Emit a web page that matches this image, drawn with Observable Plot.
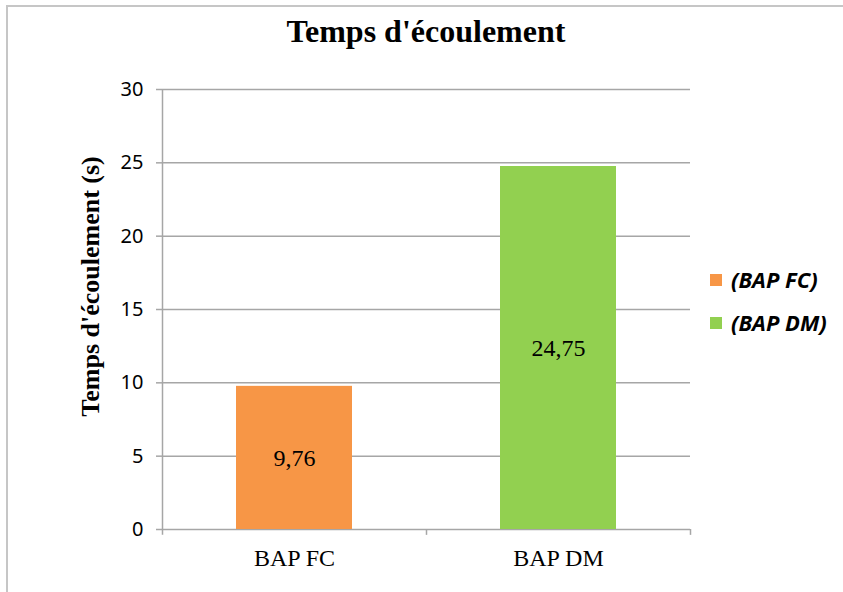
<!DOCTYPE html>
<html>
<head>
<meta charset="utf-8">
<script src="https://cdn.jsdelivr.net/npm/d3@7"></script>
<script src="https://cdn.jsdelivr.net/npm/@observablehq/plot@0.6"></script>
<style>
  body { margin: 0; background: #fff; }
  #wrap { position: relative; width: 843px; height: 592px; overflow: hidden; background: #fff; }
  #border { position: absolute; left: 6px; top: 5px; width: 900px; height: 700px;
            border-left: 2px solid #c6c6c6; border-top: 2px solid #c6c6c6; }
  #chart { position: absolute; left: 0; top: 0; }
  #title { position: absolute; left: 0; width: 852px; top: 13px; line-height: 34px; text-align: center;
           font: bold 32px "Liberation Serif", serif; color: #000; }
  .leg { position: absolute; left: 710px; line-height: 26px; white-space: nowrap;
         font: italic bold 22px "Open Sans", sans-serif; color: #000; }
  .sw { display: inline-block; width: 12px; height: 12px; margin-right: 9px; vertical-align: middle; position: relative; top: -2px; }
</style>
</head>
<body>
<div id="wrap">
  <div id="border"></div>
  <div id="chart"></div>
  <div id="title"></div>
  <div id="legend"></div>
</div>
<script>
// ---- data ----
const titleText = "Temps d'écoulement";
const yLabel = "Temps d'écoulement (s)";
const categories = ["BAP FC", "BAP DM"];
const values = [9.76, 24.75];
const valueLabels = ["9,76", "24,75"];
const legendLabels = ["(BAP FC)", "(BAP DM)"];
const colors = ["#F79646", "#92D050"];
const yTicks = [0, 5, 10, 15, 20, 25, 30];

const data = categories.map((c, i) => ({cat: c, value: values[i], label: valueLabels[i], color: colors[i]}));

const gridColor = "#a6a6a6";
const halfStep = (690 - 162) / categories.length / 2;

const plot = Plot.plot({
  width: 843,
  height: 592,
  marginLeft: 162,
  marginRight: 153,
  marginTop: 89,
  marginBottom: 63,
  style: { background: "transparent", color: "#000", overflow: "visible" },
  x: { domain: categories, paddingInner: 0.56, paddingOuter: 0.28 },
  y: { domain: [0, 30] },
  marks: [
    Plot.gridY(yTicks, { stroke: gridColor, strokeOpacity: 1, strokeWidth: 1.5 }),
    Plot.axisY(yTicks, { tickSize: 6, tickPadding: 13, stroke: gridColor, strokeWidth: 1.5,
      fontSize: 20, fontFamily: "Noto Sans", label: null, tickFormat: d => String(d) }),
    Plot.axisX({ tickSize: 0, tickPadding: 19, fontSize: 24, fontFamily: "Liberation Serif", label: null }),
    // y axis line
    Plot.ruleX([categories[0]], { x: d => d, dx: -halfStep, y1: -0.4, y2: 30, stroke: gridColor, strokeWidth: 1.5 }),
    // category boundary ticks
    Plot.ruleX(categories, { x: d => d, dx: halfStep, y1: -0.4, y2: 0, stroke: gridColor, strokeWidth: 1.5 }),
    Plot.barY(data, { x: "cat", y: "value", fill: "color" }),
    Plot.text(data, { x: "cat", y: d => d.value / 2, text: "label", fontSize: 24, fontFamily: "Liberation Serif", fill: "#000" }),
    Plot.text([yLabel], { frameAnchor: "left", textAnchor: "middle", dx: -72, dy: -23, rotate: -90, fontSize: 26,
      fontWeight: "bold", fontFamily: "Liberation Serif", fill: "#000" })
  ]
});
document.getElementById("chart").appendChild(plot);
document.getElementById("title").textContent = titleText;

const legTops = [264, 307];
const legend = document.getElementById("legend");
legendLabels.forEach((l, i) => {
  const div = document.createElement("div");
  div.className = "leg";
  div.style.top = legTops[i] + "px";
  const sw = document.createElement("span");
  sw.className = "sw";
  sw.style.background = colors[i];
  div.appendChild(sw);
  div.appendChild(document.createTextNode(l));
  legend.appendChild(div);
});
</script>
</body>
</html>
